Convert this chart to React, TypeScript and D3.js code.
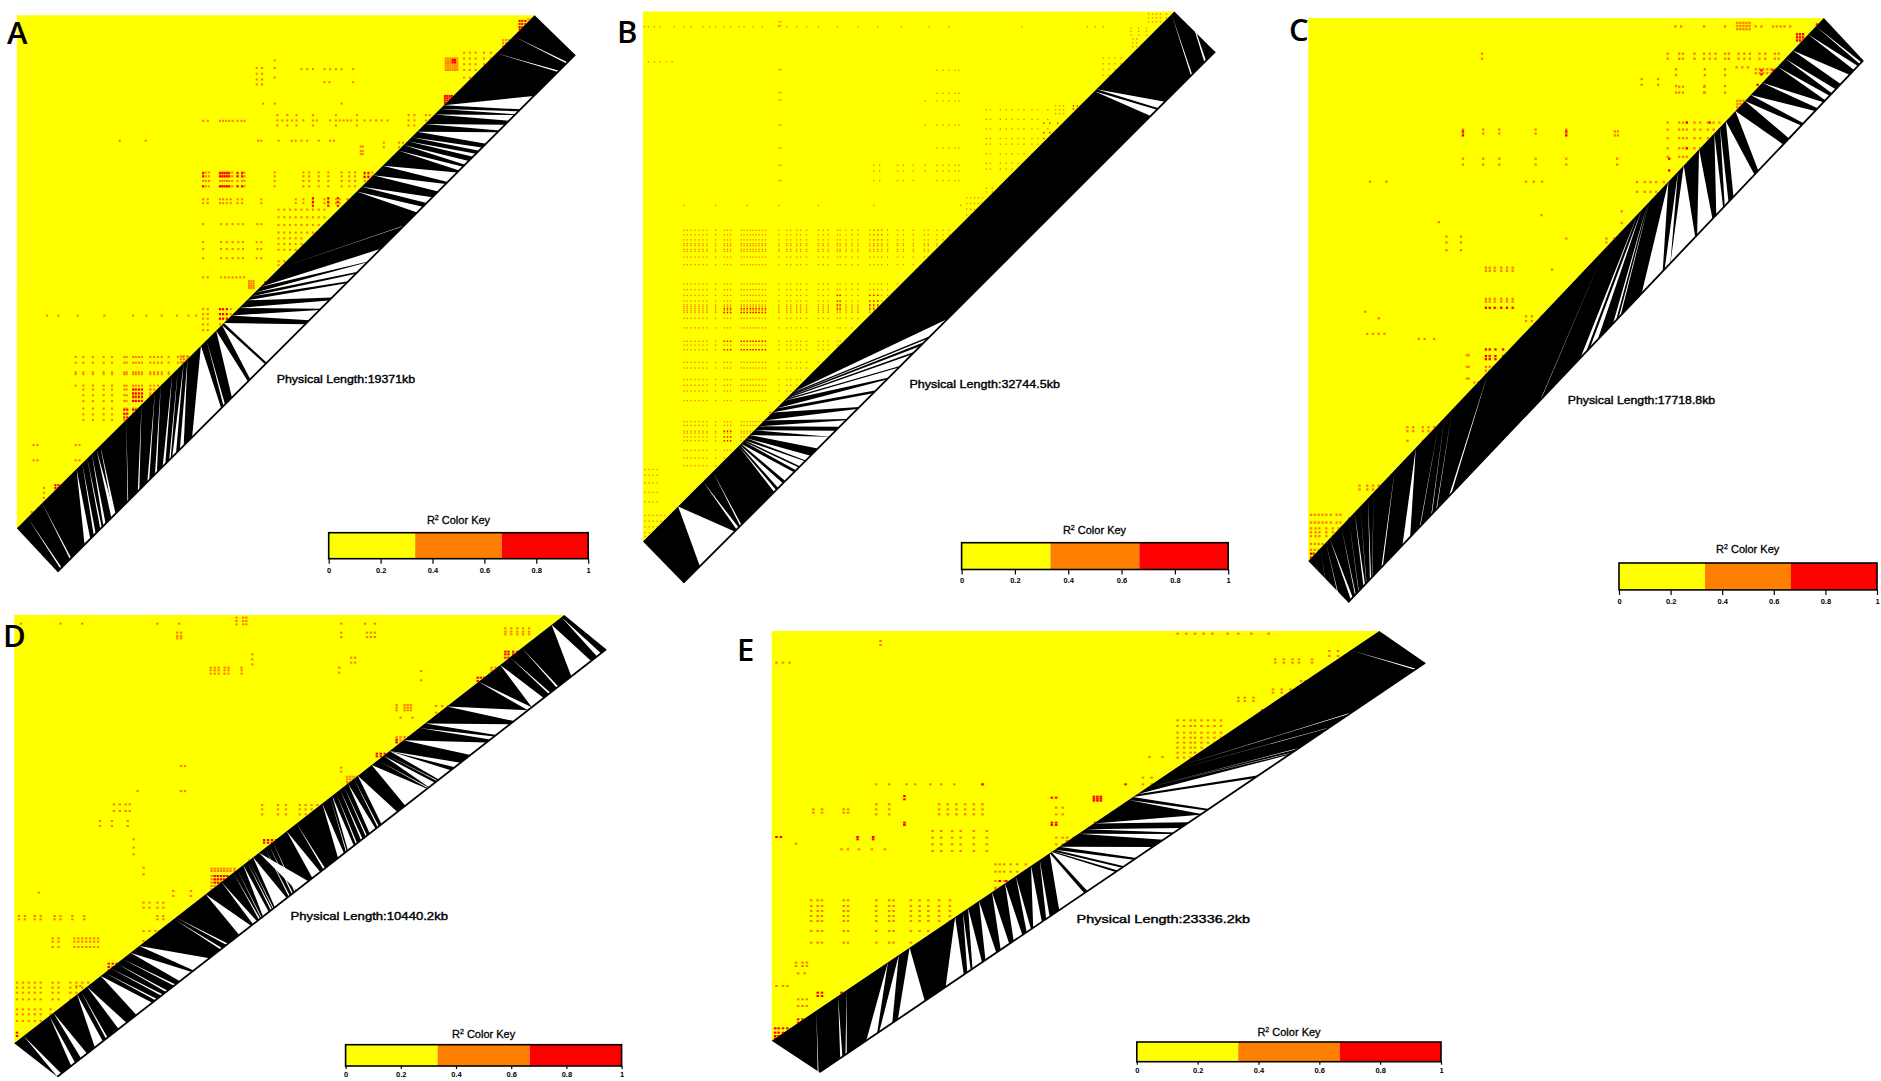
import { useEffect, useRef } from "react";
import * as d3 from "d3";

// [columns, rows, level] level 1 = orange, 2 = red. Values are SNP grid positions.
type Hot = [number[], number[], number];
// [position on upper edge, start on lower edge, end on lower edge]
type Gap = [number, number, number];

const keyLevels = [0, 1 / 3, 2 / 3, 1];
const keyColors = ["#ffff00", "#ff8000", "#ff0000"];
const keyTicks = [0, 0.2, 0.4, 0.6, 0.8, 1];

const lengthA = "Physical Length:19371kb";
const lengthB = "Physical Length:32744.5kb";
const lengthC = "Physical Length:17718.8kb";
const lengthD = "Physical Length:10440.2kb";
const lengthE = "Physical Length:23336.2kb";

const colsA1 = [528, 535, 543, 572, 578, 584, 590, 596, 604, 618, 630, 636];
const colsA2 = [715, 790, 805, 830, 855, 890, 910, 925, 950, 960, 970, 985];
const colsA3 = [195, 215, 240, 268, 290, 322, 328, 345, 352, 360, 368, 390, 400, 410, 420, 438, 462, 475, 490];
const hotA: Hot[] = [
  [[1162, 1168, 1174, 1180, 1186, 1192], [150, 156, 162, 168, 174, 180], 1],
  [[1180, 1186], [154, 160], 2],
  [[1160, 1166, 1172, 1178], [248, 254, 260, 266, 272], 2],
  [[1355, 1362, 1370], [52, 60, 68, 74], 2],
  [[1378, 1385], [48, 56], 1],
  [[1312, 1320, 1328], [102, 110, 118], 1],
  [[1210, 1225, 1240, 1262, 1280], [135, 150, 165, 180, 200], 1],
  [[722, 735, 748, 760, 772, 790, 815, 825, 860, 875, 885, 895, 905, 915, 930, 950, 965, 980, 995, 1010], [312], 1],
  [[722, 748, 772, 815, 875, 930], [298, 325], 1],
  [[1065, 1080, 1110, 1120], [298, 312, 325], 1],
  [[528, 540, 572, 580, 588, 596, 605, 618, 628, 636], [313], 1],
  [[668, 682], [175, 190, 205, 218], 1],
  [[715], [155, 175, 200, 268], 1],
  [[785, 800, 815, 845, 860, 875, 890, 920], [178], 1],
  [[845, 858, 920], [212], 1],
  [[685, 890], [268], 1],
  [[310, 378, 672, 680, 725, 760, 770, 785, 800, 830, 860, 870], [365], 1],
  [[940, 945], [380, 392, 400], 1],
  [[1000, 1040, 1050], [370, 382], 1],
  [colsA1, [448, 458, 470, 484], 1],
  [[528, 572, 578, 584, 590, 596, 618, 630], [450, 458, 484], 2],
  [colsA2, [448, 458, 470, 484], 1],
  [[950, 960, 985], [450, 460], 2],
  [[528, 540, 572, 580, 590, 600, 618, 630, 680, 770, 790, 815, 845, 855, 875, 885, 905, 915], [518, 528], 1],
  [[815, 855, 880], [515, 525, 535], 2],
  [[725, 740, 755, 770, 785, 800, 815, 830, 845], [545, 565, 585, 605], 1],
  [[725, 740, 755, 770, 785], [620, 635, 650, 680, 690], 1],
  [[528, 575, 590, 605, 620, 632, 670, 680], [583, 648], 1],
  [[528, 575, 590, 605, 620, 632, 668, 680], [630, 672], 1],
  [[528, 540, 575, 585, 595, 605, 615, 625, 635], [722], 1],
  [[648, 654, 660], [732, 738, 744, 750], 1],
  [[690, 698], [735], 2],
  [[528, 540, 572, 580, 590, 600], [805, 818, 830, 845, 860], 1],
  [[572, 580, 590], [805, 818, 830], 2],
  [[120, 150, 200, 270, 345, 380, 420, 460, 490, 510], [822], 1],
  [colsA3, [930, 945, 970, 975, 1005], 1],
  [colsA3.slice(1, 12), [1015, 1030, 1045, 1065, 1080, 1095], 1],
  [[345, 352, 360, 368], [1015, 1025, 1035, 1045], 2],
  [[322, 330, 345, 352, 360], [1068, 1078, 1088], 2],
  [[390, 400, 410], [1015, 1025, 1035], 1],
  [[470, 478, 486], [928, 936, 944], 1],
  [[142, 150, 158], [1265, 1272, 1280], 2],
  [[112], [1272, 1285, 1298, 1310], 1],
  [[46, 52], [1382, 1388], 2],
  [[80], [1335, 1342], 1],
  [[85, 95, 195, 205], [1160, 1200], 1],
];
const gapsA: Gap[] = [
  [72, 158, 161], [110, 183, 186], [200, 221, 236], [215, 245, 250], [228, 262, 266],
  [240, 270, 276], [252, 291, 300], [262, 296, 302], [330, 333, 335], [370, 360, 364],
  [405, 385, 390], [420, 405, 410], [450, 425, 432], [465, 442, 446], [480, 450, 460],
  [490, 470, 480], [525, 502, 578], [540, 584, 588], [565, 606, 648], [580, 654, 693],
  [585, 697, 798], [605, 808, 835], [625, 838, 860], [645, 868, 905], [655, 910, 930],
  [665, 935, 960], [680, 962, 995], [730, 1054, 1056], [932, 1090, 1105], [945, 1115, 1130],
  [975, 1145, 1165], [1000, 1170, 1195], [1040, 1200, 1210], [1055, 1215, 1225], [1065, 1236, 1244],
  [1075, 1252, 1260], [1090, 1270, 1300], [1110, 1305, 1320], [1135, 1330, 1345], [1150, 1347, 1355],
  [1160, 1360, 1395], [1297, 1458, 1461], [1342, 1480, 1483],
];

const colsB1 = [160, 168, 178, 188, 198, 208, 218, 240, 262, 270, 278, 305, 312, 320, 328, 335, 342, 350, 358, 366];
const colsB2 = [400, 420, 430, 445, 455, 470, 500, 512, 525, 548, 555, 570, 585, 600, 630, 640, 650, 660, 675, 700, 715, 740, 768, 778, 800, 815, 830];
const rowsB = [600, 612, 625, 635, 640, 650, 655, 670, 690, 740, 755, 770, 785, 795, 800, 805, 810, 815, 830, 855, 890, 900, 912, 945, 960, 990, 1005, 1020, 1045, 1100, 1110, 1125, 1130, 1140, 1150, 1175, 1195, 1215];
const hotB: Hot[] = [
  [colsB1, rowsB, 1],
  [colsB2, rowsB, 1],
  [[262, 270, 278, 305, 312, 320, 328, 335, 342, 350, 358, 366], [805, 815, 890, 912], 2],
  [[262, 270, 278], [1125, 1140, 1150], 2],
  [[548, 555, 630, 640, 650], [770, 785, 795, 805], 2],
  [[640, 650, 660], [600, 612, 625, 640], 1],
  [[60, 70, 85, 100, 135, 160, 178, 208, 225, 240, 262, 278, 300, 312, 335, 358, 400, 420, 445, 470, 500, 548, 600, 650, 710, 780, 830, 1015, 1180, 1200, 1220], [68], 1],
  [[70, 85, 100, 115, 130], [160], 1],
  [[400, 405], [55, 65, 180, 240, 260, 325, 385, 430, 470], 1],
  [[1295, 1305], [100, 110, 120], 1],
  [[1335, 1345, 1355, 1365, 1380], [35, 45, 55], 1],
  [[1290, 1310, 1330], [72, 80, 90], 1],
  [[1220, 1235, 1250, 1265], [150, 165, 180, 195], 1],
  [[1100, 1110, 1120], [275, 285, 295], 1],
  [[1145, 1155], [275, 283], 2],
  [[925, 935, 960, 975, 990, 1005, 1020, 1040, 1055, 1080], [285, 310, 335, 360, 375, 400, 425, 440], 1],
  [[1070, 1085, 1105], [320, 345, 360], 2],
  [[800, 815, 830, 845, 855], [182, 242, 262, 325, 385, 430, 445, 470], 1],
  [[770], [262, 325, 430, 445], 1],
  [[640, 655, 700, 715, 740], [430, 445, 470], 1],
  [[875, 885, 895, 905, 915], [515, 530, 545, 560], 1],
  [[925, 940], [490, 500], 1],
  [[62, 72, 82, 92, 102, 112], [1345, 1360, 1375, 1390, 1400], 1],
  [[62, 72, 82, 92], [1225, 1240, 1260, 1285, 1310], 1],
  [[160, 240, 320, 400, 500, 640, 860], [535], 1],
  [[378, 384], [1076, 1082], 2],
];
const gapsB: Gap[] = [
  [147, 202, 290], [210, 295, 300], [235, 304, 307], [300, 390, 395], [303, 400, 412],
  [306, 418, 440], [312, 445, 452], [315, 455, 468], [320, 470, 482], [328, 500, 530],
  [340, 530, 545], [350, 555, 572], [365, 575, 600], [385, 605, 640], [395, 648, 675],
  [415, 680, 705], [420, 710, 738], [425, 745, 760], [430, 770, 778], [436, 785, 828],
  [1200, 1342, 1358], [1205, 1362, 1378], [1395, 1444, 1447], [1430, 1478, 1482],
];

const colsC1 = [78, 88, 98, 108, 118, 130, 145, 155];
const hotC: Hot[] = [
  [[1192, 1200, 1208, 1216, 1224], [56, 64, 72], 1],
  [[1240, 1255, 1285, 1295, 1305], [65], 1],
  [[1030, 1045, 1105, 1160, 1315, 1330], [65], 1],
  [[1348, 1356, 1364], [85, 93, 101], 2],
  [[1400, 1408], [60, 68], 2],
  [[1010, 1040, 1050, 1080, 1105, 1120, 1135, 1160, 1170, 1195, 1210, 1225, 1250, 1265, 1290, 1300], [135, 148], 1],
  [[525], [135, 148], 1],
  [[1190, 1205, 1220], [170], 1],
  [[1240, 1250, 1260, 1270, 1280, 1290], [175, 185], 1],
  [[1255, 1285], [178, 188], 2],
  [[1032, 1107, 1160], [175, 190, 218, 235], 1],
  [[942, 985], [200, 215], 1],
  [[1040, 1050, 1105], [220, 235], 1],
  [[1192, 1200, 1208], [256, 264, 272, 280], 1],
  [[1245], [215], 2],
  [[1010, 1040, 1050, 1060, 1080, 1095, 1115, 1130, 1145], [312, 330, 352, 378, 400], 1],
  [[1014], [405, 435], 2],
  [[1120, 1060], [312, 378], 2],
  [[475, 528, 570, 665, 745], [330, 340], 1],
  [[475, 745], [335, 345], 2],
  [[872, 880], [335, 345], 1],
  [[475, 528, 570, 665, 745, 878], [405, 420], 1],
  [[232, 275, 640, 660, 682], [464], 1],
  [[930, 950, 965, 980, 1000], [465, 490], 1],
  [[680], [550], 1],
  [[412], [568], 1],
  [[890], [540, 570], 1],
  [[850, 870], [610, 620], 1],
  [[432, 470], [605, 620, 640], 1],
  [[745], [610], 1],
  [[535, 545, 558, 575, 590, 605], [685, 693], 1],
  [[708, 800], [690], 1],
  [[535, 545, 558, 575, 590, 605], [765, 772], 1],
  [[535, 545, 558, 575, 590, 605], [788], 2],
  [[640, 655, 680], [810, 822], 1],
  [[535, 545, 560, 580], [895, 912, 920], 2],
  [[535, 545, 555], [940, 950, 960], 1],
  [[485, 490], [910, 940, 970], 1],
  [[505, 515], [980], 1],
  [[225, 240, 255, 270], [855], 1],
  [[360, 375, 400], [868], 1],
  [[220], [798], 1],
  [[255], [815], 1],
  [[330, 345, 370, 385, 400, 415], [1095, 1105], 1],
  [[330, 370], [1130], 1],
  [[205, 225, 240, 255], [1245, 1255], 1],
  [[230], [1280], 2],
  [colsC1, [1320, 1340, 1395, 1410], 1],
  [[78, 90, 100, 118, 135, 150], [1355, 1365, 1375], 1],
  [[78, 85], [1420, 1430], 2],
  [[178], [1330], 2],
];
const gapsC: Gap[] = [
  [90, 125, 126], [105, 135, 136], [120, 160, 162], [130, 185, 190], [160, 196, 198],
  [180, 205, 206], [195, 218, 222], [210, 225, 226], [230, 235, 238], [245, 240, 241], [300, 265, 269],
  [355, 320, 340], [415, 365, 367], [430, 395, 397], [450, 408, 410], [545, 441, 448],
  [850, 680, 682], [935, 785, 800], [945, 810, 830], [960, 870, 878],
  [965, 885, 890], [1015, 945, 1000], [1040, 1005, 1020], [1055, 1020, 1085], [1095, 1090, 1130],
  [1135, 1140, 1158], [1150, 1162, 1172], [1165, 1185, 1240], [1190, 1250, 1315], [1215, 1330, 1362],
  [1230, 1368, 1398], [1260, 1405, 1420], [1300, 1425, 1436], [1320, 1442, 1452], [1340, 1465, 1488],
  [1380, 1500, 1510], [1400, 1515, 1519],
];

const hotD: Hot[] = [
  [[595, 612, 620], [50, 60, 70], 1],
  [[50, 150, 205, 395, 450, 860, 920, 945], [68], 1],
  [[445, 455], [95, 105, 112], 1],
  [[860, 925, 935, 945], [95, 108], 1],
  [[1275, 1290, 1305, 1320, 1335], [82, 92, 100], 1],
  [[530, 540, 550, 565, 575, 608], [200, 208, 218], 1],
  [[635], [160, 175, 190], 1],
  [[885, 895], [170, 185], 1],
  [[855], [200, 215], 1],
  [[1062], [210, 238], 1],
  [[1000, 1020, 1028, 1036], [312, 320, 328], 1],
  [[1010, 1040], [350], 1],
  [[1275, 1283, 1295, 1305], [152, 160, 170], 2],
  [[1205, 1213, 1221], [230, 240, 250], 2],
  [[1240, 1250, 1260], [200, 208, 215], 1],
  [[1000, 1010, 1020, 1030, 1040], [408, 416, 424], 1],
  [[1000], [416, 424], 2],
  [[950, 960, 970, 985], [458, 466], 2],
  [[1100, 1115, 1130, 1150], [315, 335, 350], 1],
  [[875, 883, 891, 899], [527, 535, 543, 550], 1],
  [[860], [500, 512], 1],
  [[660, 700, 720, 755, 770, 785, 800, 815], [612, 625, 640], 1],
  [[665, 675, 685, 695], [717, 725], 2],
  [[628, 638], [778, 784], 1],
  [[532, 540, 548, 556, 564, 572, 580, 590], [803, 810, 825, 835, 845, 855, 865], 1],
  [[540, 548, 556, 564, 572], [825, 835, 845], 2],
  [[360, 375, 395, 410], [905, 920], 1],
  [[435, 480], [870, 885], 1],
  [[360], [800, 820], 1],
  [[395, 410], [945, 955], 1],
  [[455, 465], [495, 570], 1],
  [[345], [570], 1],
  [[285, 300, 315, 325], [610, 630], 1],
  [[250, 280, 320], [660, 675], 1],
  [[335], [715, 740, 760], 1],
  [[45, 60, 85, 100, 135, 150, 180, 210], [945, 955], 1],
  [[95], [875], 1],
  [[130, 145, 185, 195, 205, 215, 225, 235, 245], [1012, 1022, 1038], 1],
  [[360, 375, 390, 400], [990, 1020], 1],
  [[272, 282, 292, 302], [1088, 1098, 1108], 2],
  [[40, 55, 70, 85, 100, 130, 145, 175, 190, 205, 220], [1145, 1160, 1175, 1195], 1],
  [[40, 55, 70, 85, 100, 125], [1225, 1240, 1260], 1],
  [[40], [1295, 1305], 2],
  [[190, 200], [1155], 1],
];
const gapsD: Gap[] = [
  [60, 145, 155], [125, 180, 190], [135, 205, 220], [195, 240, 260], [205, 268, 272],
  [220, 300, 320], [255, 345, 385], [265, 393, 397], [280, 408, 412], [295, 420, 424],
  [310, 440, 444], [330, 455, 485], [352, 490, 530], [440, 558, 562], [445, 573, 577],
  [520, 605, 635], [560, 640, 650], [590, 655, 658], [600, 660, 662], [615, 665, 680], [625, 685, 688],
  [630, 690, 692], [640, 695, 725], [670, 730, 733], [680, 738, 741], [690, 745, 748], [655, 750, 780],
  [725, 790, 810], [750, 818, 822], [815, 855, 870], [835, 875, 877], [840, 880, 895], [850, 900, 903],
  [860, 913, 917], [870, 925, 928], [880, 935, 950], [895, 955, 958], [905, 965, 1005], [940, 1025, 1080],
  [955, 1082, 1084], [970, 1085, 1100], [975, 1105, 1107], [985, 1110, 1140],
  [985, 1150, 1165], [1020, 1190, 1230], [1060, 1240, 1250], [1075, 1255, 1290], [1130, 1300, 1335],
  [1210, 1335, 1345], [1265, 1345, 1375], [1290, 1388, 1392], [1320, 1408, 1412], [1395, 1445, 1495],
  [1420, 1510, 1520],
];

const hotE: Hot[] = [
  [[960, 980, 1000, 1020, 1040, 1075, 1100, 1130, 1170], [38], 1],
  [[275], [60, 72], 1],
  [[35, 50, 65], [125], 1],
  [[1310, 1330], [90, 105], 1],
  [[1360], [90], 2],
  [[1185, 1205, 1225, 1240, 1270], [115, 125], 1],
  [[1245, 1255], [180], 1],
  [[1180, 1200, 1220], [205, 215], 1],
  [[1100, 1115, 1135], [230, 240], 1],
  [[1155], [268], 2],
  [[960, 975, 990, 1000, 1015, 1030, 1045, 1060], [298, 315, 335, 350, 365, 380, 395, 410], 1],
  [[895, 925], [408], 1],
  [[265, 295, 335, 355, 390, 415, 445, 510], [490], 1],
  [[510], [490], 2],
  [[330], [525, 535, 605, 612], 2],
  [[670, 680], [530, 605, 612], 2],
  [[767, 775, 783], [527, 533, 539], 2],
  [[840], [490], 2],
  [[860], [530], 2],
  [[880, 900], [470, 490], 1],
  [[120, 140, 190, 200], [565, 575], 1],
  [[265, 295, 410, 430, 450, 470, 490, 510], [550, 565, 580], 1],
  [[395, 415, 440, 460, 490, 520], [630, 650, 670, 690], 1],
  [[35, 45], [648], 2],
  [[80], [668], 1],
  [[222, 258], [648, 655], 2],
  [[185, 200, 225, 255, 285], [685], 1],
  [[770], [605], 2],
  [[680, 695], [560, 580, 650, 670], 1],
  [[705, 720], [650, 660], 1],
  [[540, 550, 560, 575, 590, 610], [730, 752, 780, 800, 805], 1],
  [[550, 565, 575], [780, 805], 2],
  [[115, 130, 140, 190, 200, 265, 295, 305, 345, 365, 385, 410, 435], [838, 855, 870, 885, 900, 930, 965], 1],
  [[80, 95, 105], [1025, 1035], 1],
  [[85, 100], [1057], 1],
  [[130, 140], [1115, 1125], 2],
  [[185, 195], [1115], 2],
  [[35, 50, 60], [1095], 1],
  [[85, 95, 105], [1135, 1155], 1],
  [[85, 95], [1195, 1205], 2],
  [[32, 40, 50, 60], [1222, 1235, 1245, 1252], 2],
];
const gapsE: Gap[] = [
  [130, 133, 135], [180, 185, 190], [200, 197, 200], [295, 245, 270], [320, 275, 305],
  [345, 318, 380], [450, 428, 470], [468, 478, 486], [480, 490, 512], [505, 520, 545],
  [535, 555, 575], [565, 585, 605], [590, 615, 625], [625, 630, 650], [645, 660, 668],
  [668, 690, 748], [672, 755, 820], [675, 825, 835], [680, 840, 862], [690, 868, 905],
  [735, 930, 950], [750, 955, 970], [770, 990, 1015], [850, 1018, 1030], [860, 1035, 1140],
  [870, 1150, 1220], [892, 1225, 1228], [893, 1240, 1243], [950, 1310, 1313], [965, 1360, 1365], [1362, 1510, 1513],
];

// Where each reference panel sits on the page
const panels = [
  { name: "A", hot: hotA, gaps: gapsA, cell: 5.5, length: lengthA,
    ox: 0, oy: 0, sx: 2.613, sy: 2.613, left: 44, top: 40, apex: 1397, foot: 1380, lowStart: [150, 1494], lowEnd: [1503, 143],
    letter: [7, 44], text: [276.7, 415.2, 382.5], key: [328.7, 588.2, 532.7, 558.7], title: [458.5, 524], tick: [5, 3.5] },
  { name: "B", hot: hotB, gaps: gapsB, cell: 3.5, length: lengthB,
    ox: 620, oy: 0, sx: 2.529, sy: 2.613, left: 58, top: 30, apex: 1402, foot: 1415, lowStart: [160, 1523], lowEnd: [1505, 135],
    letter: [617, 43], text: [909.4, 1060, 388.2], key: [961.6, 1228.2, 542.7, 569.5], title: [1094.5, 534], tick: [5, 3.5] },
  { name: "C", hot: hotC, gaps: gapsC, cell: 6, length: lengthC,
    ox: 1280, oy: 0, sx: 2.613, sy: 2.57, left: 74, top: 46, apex: 1421, foot: 1442, lowStart: [178, 1548], lowEnd: [1524, 155],
    letter: [1289, 41], text: [1567.8, 1715.1, 404], key: [1619, 1877, 563, 589.9], title: [1747.7, 553], tick: [5, 3.5] },
  { name: "D", hot: hotD, gaps: gapsD, cell: 6, length: lengthD,
    ox: 0, oy: 600, sx: 2.529, sy: 3, left: 36, top: 45, apex: 1427, foot: 1330, lowStart: [145, 1430], lowEnd: [1533, 148],
    letter: [3, 647], text: [290.6, 448, 920], key: [345.6, 621.6, 1044.7, 1066], title: [483.6, 1038], tick: [3, 2.5] },
  { name: "E", hot: hotE, gaps: gapsE, cell: 6, length: lengthE,
    ox: 760, oy: 620, sx: 2.306, sy: 3, left: 27, top: 33, apex: 1428, foot: 1262, lowStart: [137, 1357], lowEnd: [1534, 128],
    letter: [737, 661], text: [1076.6, 1250, 923], key: [1136.8, 1441, 1042, 1061.7], title: [1289, 1035.5], tick: [3, 2.5] },
];

const helvetica = "'Liberation Sans', Arial, sans-serif";

export default function App() {
  const svgRef = useRef<SVGSVGElement | null>(null);

  useEffect(() => {
    if (!svgRef.current) return;
    const svg = d3.select(svgRef.current);
    svg.selectAll("*").remove();

    // The source figure is a soft bitmap, a little blur keeps the cells from looking like dots
    svg
      .append("filter")
      .attr("id", "soft")
      .attr("x", 0)
      .attr("y", 0)
      .attr("width", 1)
      .attr("height", 1)
      .append("feGaussianBlur")
      .attr("stdDeviation", 0.5);

    panels.forEach((p) => {
      const x = d3.scaleLinear().domain([0, 1568]).range([p.ox, p.ox + 1568 / p.sx]);
      const y = d3.scaleLinear().domain([0, 1568]).range([p.oy, p.oy + 1568 / p.sy]);
      const upperY = d3.scaleLinear().domain([p.left, p.apex]).range([p.foot, p.top]);
      const lowerY = d3.scaleLinear().domain([p.lowStart[0], p.lowEnd[0]]).range([p.lowStart[1], p.lowEnd[1]]);
      const g = svg.append("g");
      const art = g.append("g").attr("filter", "url(#soft)");

      // Heatmap triangle
      const triangle = [[p.left, p.top], [p.apex, p.top], [p.left, p.foot]]
        .map(([a, b]) => `${x(a)},${y(b)}`)
        .join(" ");
      const clipId = `clip-${p.name}`;
      art.append("clipPath").attr("id", clipId).append("polygon").attr("points", triangle);
      art.append("polygon").attr("points", triangle).attr("fill", keyColors[0]);

      const cells = art.append("g").attr("clip-path", `url(#${clipId})`);
      p.hot.forEach(([cols, rows, level]) => {
        cols.forEach((c) => {
          rows.forEach((r) => {
            cells
              .append("rect")
              .attr("x", x(c))
              .attr("y", y(r))
              .attr("width", x(p.cell) - x(0))
              .attr("height", y(p.cell) - y(0))
              .attr("fill", keyColors[level]);
          });
        });
      });

      // Black band with the SNP lines, gaps between lines are white
      const band = [
        [p.left, p.foot],
        [p.apex, p.top],
        p.lowEnd,
        p.lowStart,
      ]
        .map(([a, b]) => `${x(a)},${y(b)}`)
        .join(" ");
      art.append("polygon").attr("points", band).attr("fill", "black");
      art
        .selectAll(".gap")
        .data(p.gaps)
        .join("polygon")
        .attr("class", "gap")
        .attr("fill", "white")
        .attr("points", (d) =>
          [
            [d[0], upperY(d[0])],
            [d[1], lowerY(d[1])],
            [d[2], lowerY(d[2])],
          ]
            .map(([a, b]) => `${x(a)},${y(b)}`)
            .join(" ")
        );
      art
        .append("line")
        .attr("x1", x(p.lowStart[0]))
        .attr("y1", y(p.lowStart[1]))
        .attr("x2", x(p.lowEnd[0]))
        .attr("y2", y(p.lowEnd[1]))
        .attr("stroke", "black")
        .attr("stroke-width", 1.8);

      // Panel letter
      g.append("text")
        .attr("x", p.letter[0])
        .attr("y", p.letter[1])
        .attr("font-family", "'Open Sans', sans-serif")
        .attr("font-weight", 600)
        .attr("font-size", 31)
        .text(p.name);

      // Physical length label
      g.append("text")
        .attr("x", p.text[0])
        .attr("y", p.text[2])
        .attr("font-family", helvetica)
        .attr("font-size", 11.5)
        .attr("stroke", "black")
        .attr("stroke-width", 0.4)
        .attr("textLength", p.text[1] - p.text[0])
        .attr("lengthAdjust", "spacingAndGlyphs")
        .text(p.length);

      // Colour key
      const keyX = d3.scaleLinear().domain([0, 1]).range([p.key[0], p.key[1]]);
      keyColors.forEach((color, i) => {
        g.append("rect")
          .attr("x", keyX(keyLevels[i]))
          .attr("y", p.key[2])
          .attr("width", keyX(keyLevels[i + 1]) - keyX(keyLevels[i]))
          .attr("height", p.key[3] - p.key[2])
          .attr("fill", color);
      });
      g.append("rect")
        .attr("x", p.key[0])
        .attr("y", p.key[2])
        .attr("width", p.key[1] - p.key[0])
        .attr("height", p.key[3] - p.key[2])
        .attr("fill", "none")
        .attr("stroke", "black")
        .attr("stroke-width", 1.6);

      const title = g
        .append("text")
        .attr("x", p.title[0])
        .attr("y", p.title[1])
        .attr("text-anchor", "middle")
        .attr("font-family", helvetica)
        .attr("font-size", 11)
        .attr("stroke", "black")
        .attr("stroke-width", 0.3);
      title.append("tspan").text("R");
      title.append("tspan").attr("dy", -4).attr("font-size", 7).text("2");
      title.append("tspan").attr("dy", 4).text(" Color Key");

      const axis = g
        .append("g")
        .attr("transform", `translate(0,${p.key[3]})`)
        .call(
          d3
            .axisBottom(keyX)
            .tickValues(keyTicks)
            .tickFormat((d) => String(d))
            .tickSize(p.tick[0])
            .tickPadding(p.tick[1])
        );
      axis.select(".domain").remove();
      axis.selectAll("line").attr("stroke", "black").attr("stroke-width", 1.2);
      axis
        .selectAll("text")
        .attr("font-family", helvetica)
        .attr("font-size", 7.5)
        .attr("font-weight", "bold")
        .attr("fill", "black");
    });
  }, []);

  return (
    <svg
      ref={svgRef}
      width={1881}
      height={1081}
      viewBox="0 0 1881 1081"
      style={{ position: "absolute", left: 0, top: 0, background: "white" }}
    ></svg>
  );
}
